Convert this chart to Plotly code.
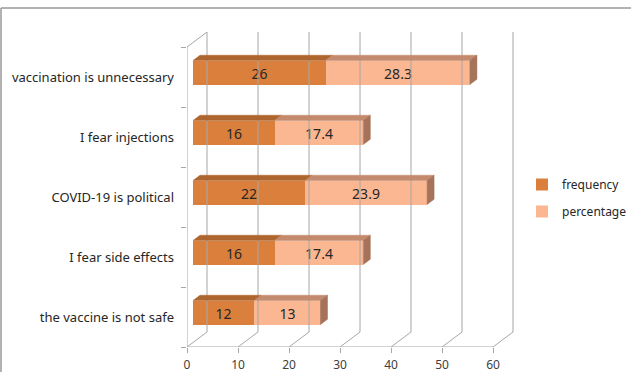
import plotly.graph_objects as go

# Reasons for vaccine hesitancy (bottom to top as drawn)
categories = [
    "the vaccine is not safe",
    "I fear side effects",
    "COVID-19 is political",
    "I fear injections",
    "vaccination is unnecessary",
]
frequency = [12, 16, 22, 16, 26]
percentage = [13, 17.4, 23.9, 17.4, 28.3]
x_ticks = [0, 10, 20, 30, 40, 50, 60]

# ---- pseudo-3D geometry (axis units) ----
W, H = 631, 372
ML, MR, MT, MB = 187, 111, 30, 25
PX_X = 5.1          # pixels per x unit
PX_Y = 60.0         # pixels per category
X_MAX = (W - ML - MR) / PX_X
Y_MIN = -0.5
Y_MAX = Y_MIN + (H - MT - MB) / PX_Y
DX = 20 / PX_X      # depth of the wall in x units
DY = 15 / PX_Y      # depth of the wall in y units
F1, F2 = 0.30, 0.65  # front/back depth of bars
HALF = 0.2          # half thickness of bar faces

GRID = "#A6A6A6"
C_FREQ = "#DA803C"
C_FREQ_TOP = "#AE652E"
C_PCT = "#FAB791"
C_PCT_TOP = "#C38A6E"
C_PCT_SIDE = "#A6735A"
FONT = "Noto Sans"

fig = go.Figure()

# walls / floor grid lines
gx, gy = [], []
for k in x_ticks:
    gx += [k + DX, k + DX, None]
    gy += [Y_MIN + DY, len(categories) - 0.5 + DY, None]
    gx += [k, k + DX, None]
    gy += [Y_MIN, Y_MIN + DY, None]
gx += [0, 0, None, 0, DX, None, 0, x_ticks[-1], None]
gy += [Y_MIN, len(categories) - 0.5, None,
       len(categories) - 0.5, len(categories) - 0.5 + DY, None,
       Y_MIN, Y_MIN, None]
fig.add_trace(go.Scatter(x=gx, y=gy, mode="lines",
                         line=dict(color=GRID, width=1),
                         hoverinfo="skip", showlegend=False))


def face(xs, ys, color):
    fig.add_trace(go.Scatter(x=xs + [xs[0]], y=ys + [ys[0]], mode="lines",
                             fill="toself", fillcolor=color,
                             line=dict(color=color, width=0.5),
                             hoverinfo="skip", showlegend=False))


# top and side faces of each bar segment
for i, (f, p) in enumerate(zip(frequency, percentage)):
    yc = i + F1 * DY
    yt = yc + HALF
    dxd = (F2 - F1) * DX
    dyd = (F2 - F1) * DY
    x0 = F1 * DX
    for a, b, c in [(x0, x0 + f, C_FREQ_TOP), (x0 + f, x0 + f + p, C_PCT_TOP)]:
        face([a, b, b + dxd, a + dxd], [yt, yt, yt + dyd, yt + dyd], c)
    xe = x0 + f + p
    face([xe, xe, xe + dxd, xe + dxd],
         [yt, yc - HALF, yc - HALF + dyd, yt + dyd], C_PCT_SIDE)

# front faces
ypos = [i + F1 * DY for i in range(len(categories))]
fig.add_trace(go.Bar(
    y=ypos, x=frequency, base=[F1 * DX] * len(frequency), orientation="h",
    width=2 * HALF, name="frequency", legendgroup="a",
    marker=dict(color=C_FREQ, line=dict(width=0)),
    text=[str(v) for v in frequency], textposition="inside",
    insidetextanchor="middle", textangle=0, constraintext="none",
    textfont=dict(family=FONT, size=14, color="#262626"),
))
fig.add_trace(go.Bar(
    y=ypos, x=percentage, base=[F1 * DX + f for f in frequency], orientation="h",
    width=2 * HALF, name="percentage", legendgroup="b",
    marker=dict(color=C_PCT, line=dict(width=0)),
    text=[f"{v:g}" for v in percentage], textposition="inside",
    insidetextanchor="middle", textangle=0, constraintext="none",
    textfont=dict(family=FONT, size=14, color="#262626"),
))

# outer frame (top and left edges)
PW = W - ML - MR
PH = H - MT - MB
px0 = (-ML + 1) / PW
px1 = (W - ML) / PW
py_top = 1 + (MT - 8) / PH
py_bot = -MB / PH
fig.add_shape(type="line", xref="paper", yref="paper",
              x0=px0, x1=px1, y0=py_top, y1=py_top,
              line=dict(color="#999999", width=1.5))
fig.add_shape(type="line", xref="paper", yref="paper",
              x0=px0, x1=px0, y0=py_top, y1=py_bot,
              line=dict(color="#999999", width=1.5))

fig.update_layout(
    width=W, height=H, autosize=False,
    margin=dict(l=ML, r=MR, t=MT, b=MB, autoexpand=False),
    paper_bgcolor="white", plot_bgcolor="white",
    barmode="overlay", bargap=0,
    font=dict(family=FONT, size=12, color="#404040"),
    showlegend=True,
    legend=dict(x=(522 - ML) / PW, y=(H - MB - 198) / PH,
                xanchor="left", yanchor="middle", bgcolor="rgba(0,0,0,0)",
                font=dict(family=FONT, size=12, color="#262626"),
                tracegroupgap=8, itemwidth=30, traceorder="grouped"),
    xaxis=dict(range=[0, X_MAX], tickmode="array", tickvals=x_ticks,
               ticks="outside", ticklen=5, tickcolor=GRID,
               showgrid=False, zeroline=False, showline=False,
               tickfont=dict(size=12),
               ticklabelstandoff=2, fixedrange=True, automargin=False),
    yaxis=dict(range=[Y_MIN, Y_MAX], tickmode="array",
               tickvals=list(range(len(categories))), ticktext=categories,
               ticks="", showgrid=False, zeroline=False, showline=False,
               tickfont=dict(size=13, color="#262626"),
               ticklabelstandoff=12, fixedrange=True, automargin=False,
               minor=dict(tickmode="array",
                          tickvals=[k - 0.5 for k in range(len(categories) + 1)],
                          ticks="outside", ticklen=5, tickcolor=GRID, showgrid=False)),
)

fig.write_html("out.html")
